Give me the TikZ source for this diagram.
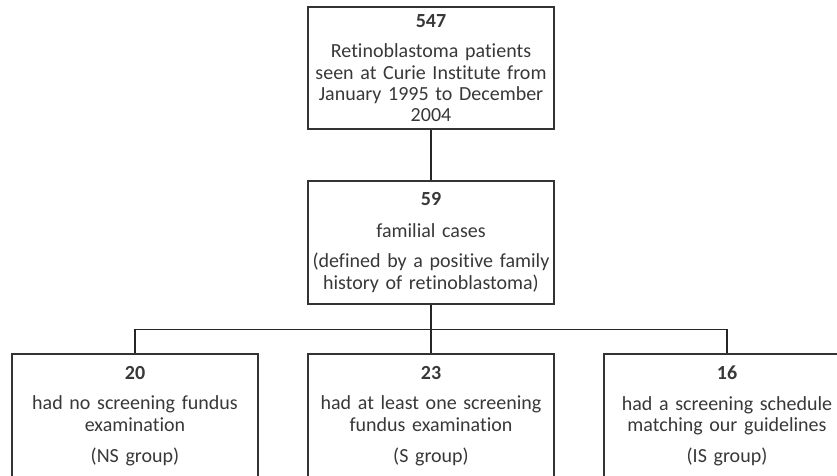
\documentclass[tikz,border=0pt]{standalone}
\usepackage{fontspec}
\setmainfont{Carlito}[Ligatures=NoCommon]
\begin{document}
\begin{tikzpicture}[x=1pt,y=-1pt,
		box/.style={draw=black!80, line width=1.4pt, minimum width=246pt, text width=240pt, align=center, inner sep=0pt, text=black!78, font=\fontsize{20}{21.3}\selectfont},
		link/.style={draw=black!85, line width=1.6pt}]
		% Frame
		\clip (0,0) rectangle (837,475);
		
		% Draw boxes
		\node[box, minimum height=122pt] (all) at (431,68) {\textbf{547}\\[9.5pt]Retinoblastoma patients\\seen at Curie Institute from\\January 1995 to December\\2004};
		\node[box, minimum height=123pt] (fam) at (431,242.5) {\textbf{59}\\[10pt]familial cases\\[9.5pt](defined by a positive family\\history of retinoblastoma)};
		\node[box, minimum height=124pt] (ns) at (135,416) {\textbf{20}\\[9.5pt]had no screening fundus\\examination\\[10pt](NS group)};
		\node[box, minimum height=124pt] (s) at (431,416) {\textbf{23}\\[9.5pt]had at least one screening\\fundus examination\\[10pt](S group)};
		\node[box, minimum height=124pt] (is) at (727,416) {\textbf{16}\\[9.5pt]had a screening schedule\\matching our guidelines\\[10pt](IS group)};
		
		% Draw connectors
		\draw[link] (all) -- (fam);
		\draw[link] (fam) -- (s);
		\draw[link] (ns.north) -- ++(0,-24) -| (is.north);
		
	\end{tikzpicture}
\end{document}
